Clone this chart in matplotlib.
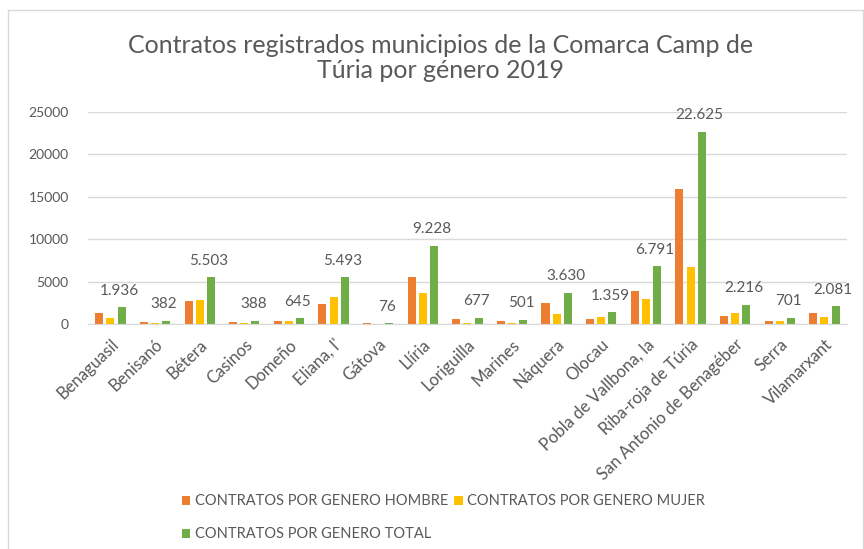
import numpy as np
import matplotlib.pyplot as plt
from matplotlib.patches import Rectangle

plt.rcParams['font.family'] = ['Lato', 'DejaVu Sans']

municipios = ['Benaguasil', 'Benisanó', 'Bétera', 'Casinos', 'Domeño', "Eliana, l'",
              'Gátova', 'Llíria', 'Loriguilla', 'Marines', 'Náquera', 'Olocau',
              'Pobla de Vallbona, la', 'Riba-roja de Túria', 'San Antonio de Benagéber',
              'Serra', 'Vilamarxant']
hombre = [1250, 240, 2700, 240, 330, 2300, 50, 5550, 560, 350, 2420, 600,
          3900, 15970, 950, 370, 1300]
mujer = [686, 142, 2803, 148, 315, 3193, 26, 3678, 117, 151, 1210, 759,
         2891, 6655, 1266, 331, 781]
total = [1936, 382, 5503, 388, 645, 5493, 76, 9228, 677, 501, 3630, 1359,
         6791, 22625, 2216, 701, 2081]

c_h = '#ED7D31'
c_m = '#FFC000'
c_t = '#70AD47'
txt = '#595959'

fig = plt.figure(figsize=(8.64, 5.49), dpi=100)
fig.patches.append(Rectangle((0.009, -0.01), 0.99, 0.992, transform=fig.transFigure,
                             fill=False, edgecolor='#D9D9D9', linewidth=1))
ax = fig.add_axes([0.102, 0.410, 0.878, 0.386])

x = np.arange(len(municipios))
w = 0.18
b1 = ax.bar(x - 0.25, hombre, w, color=c_h, label='CONTRATOS POR GENERO HOMBRE')
b2 = ax.bar(x, mujer, w, color=c_m, label='CONTRATOS POR GENERO MUJER')
b3 = ax.bar(x + 0.25, total, w, color=c_t, label='CONTRATOS POR GENERO TOTAL')

for xi, v in zip(x, total):
    lab = f'{v:,}'.replace(',', '.')
    ax.annotate(lab, (xi + 0.2, v), xytext=(0, 7), textcoords='offset points',
                ha='center', va='bottom', fontsize=11, color=txt)

ax.set_xlim(-0.5, len(municipios) - 0.5)
ax.set_ylim(0, 25000)
ax.set_yticks(range(0, 25001, 5000))
ax.yaxis.grid(True, color='#D9D9D9', linewidth=1)
ax.set_axisbelow(True)
for s in ['top', 'right', 'left']:
    ax.spines[s].set_visible(False)
ax.spines['bottom'].set_color('#D9D9D9')
ax.tick_params(axis='both', length=0, colors=txt, labelsize=10)
ax.tick_params(axis='y', pad=14)
ax.tick_params(axis='x', labelsize=12, pad=9)
ax.set_xticks(x)
ax.set_xticklabels(municipios, rotation=44, ha='right', rotation_mode='anchor')

fig.text(0.51, 0.895, 'Contratos registrados municipios de la Comarca Camp de\nTúria por género 2019',
         ha='center', va='center', fontsize=18, color=txt, linespacing=1.1)

fig.legend([b1, b3, b2], [b1.get_label(), b3.get_label(), b2.get_label()],
           ncol=2, loc='lower left', bbox_to_anchor=(0.195, -0.01), frameon=False,
           fontsize=10.5, labelcolor=txt, handlelength=0.6, handleheight=0.6,
           handletextpad=0.3, columnspacing=0.4, labelspacing=1.3)

fig.savefig('out.png', dpi=100)
